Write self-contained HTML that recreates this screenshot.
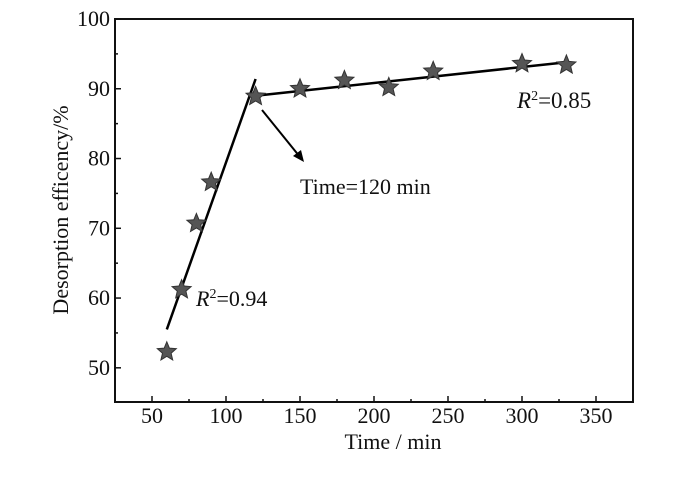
<!DOCTYPE html>
<html><head><meta charset="utf-8"><style>
body{margin:0;background:#fff}
svg text{font-family:"Liberation Serif",serif;fill:#111}
</style></head><body>
<svg id="c" width="700" height="481" xmlns="http://www.w3.org/2000/svg"></svg>
<script>
const times=[60,70,80,90,120,150,180,210,240,300,330];
const efficiency=[52.3,61.2,70.7,76.6,88.9,90.0,91.2,90.2,92.5,93.6,93.4];
const fit1X=[60,120]; const fit1Y=[55.5,91.4];
const fit2X=[120,330]; const fit2Y=[89.0,93.8];
const xTicks=[50,100,150,200,250,300,350];
const yTicks=[50,60,70,80,90,100];
const X0=115,X1=633,Y0=402,Y1=19,xmin=25,xmax=375,ymin=45.1,ymax=100;
const sx=v=>X0+(v-xmin)/(xmax-xmin)*(X1-X0);
const sy=v=>Y0-(v-ymin)/(ymax-ymin)*(Y0-Y1);
const svg=document.getElementById('c');const NS='http://www.w3.org/2000/svg';
function mk(t,a,p){const e=document.createElementNS(NS,t);for(const k in a)e.setAttribute(k,a[k]);(p||svg).appendChild(e);return e;}
let e=mk('rect',{x:X0,y:Y1,width:X1-X0,height:Y0-Y1,fill:'none',stroke:'#111','stroke-width':2});


xTicks.forEach(t=>{const x=sx(t);
 let l=mk('line',{x1:x,x2:x,y1:Y0,y2:Y0-6,stroke:'#111','stroke-width':1.5});
 
 
 let m=mk('line',{x1:sx(t+25),x2:sx(t+25),y1:Y0,y2:Y0-3,stroke:'#111','stroke-width':1.5});
 
 
 let tx=mk('text',{x:x,y:Y0+21,'text-anchor':'middle','font-size':22});tx.textContent=t;
 
 
});
yTicks.forEach(t=>{const y=sy(t);
 let l=mk('line',{x1:X0,x2:X0+6,y1:y,y2:y,stroke:'#111','stroke-width':1.5});
 
 
 if(t<100){let m=mk('line',{x1:X0,x2:X0+3,y1:sy(t+5),y2:sy(t+5),stroke:'#111','stroke-width':1.5});
 
 }
 let tx=mk('text',{x:X0-5,y:y+7,'text-anchor':'end','font-size':22});tx.textContent=t;
 
 
});
let f1=mk('line',{x1:sx(fit1X[0]),y1:sy(fit1Y[0]),x2:sx(fit1X[1]),y2:sy(fit1Y[1]),stroke:'#000','stroke-width':2.5});


let f2=mk('line',{x1:sx(fit2X[0]),y1:sy(fit2Y[0]),x2:sx(fit2X[1]),y2:sy(fit2Y[1]),stroke:'#000','stroke-width':2.5});


function star(cx,cy,R,r){let p=[];for(let i=0;i<10;i++){const a=-Math.PI/2+i*Math.PI/5,rr=i%2?r:R;p.push((cx+rr*Math.cos(a)).toFixed(1)+','+(cy+rr*Math.sin(a)).toFixed(1));}return p.join(' ');}
times.forEach((t,i)=>{let s=mk('polygon',{points:star(sx(t),sy(efficiency[i]),10,4.5),fill:'#555',stroke:'#333','stroke-width':1});
 
 });
let ar=mk('line',{x1:262,y1:110,x2:300,y2:157,stroke:'#000','stroke-width':2});


let ah=mk('polygon',{points:'304,162 293,156 301,150',fill:'#000'});


</script>
<svg style="position:absolute;left:0;top:0" width="700" height="481">
<text x="300" y="194" font-size="22">Time=120 min</text>
<text x="196" y="306" font-size="22"><tspan font-style="italic">R</tspan><tspan font-size="14" dy="-8">2</tspan><tspan dy="8">=0.94</tspan></text>
<text x="517" y="108" font-size="23"><tspan font-style="italic">R</tspan><tspan font-size="14" dy="-8">2</tspan><tspan dy="8">=0.85</tspan></text>
<text x="393" y="449" font-size="22" text-anchor="middle">Time / min</text>
<text transform="translate(68,210) rotate(-90)" font-size="22" text-anchor="middle">Desorption efficency/%</text>
</svg>
</body></html>
